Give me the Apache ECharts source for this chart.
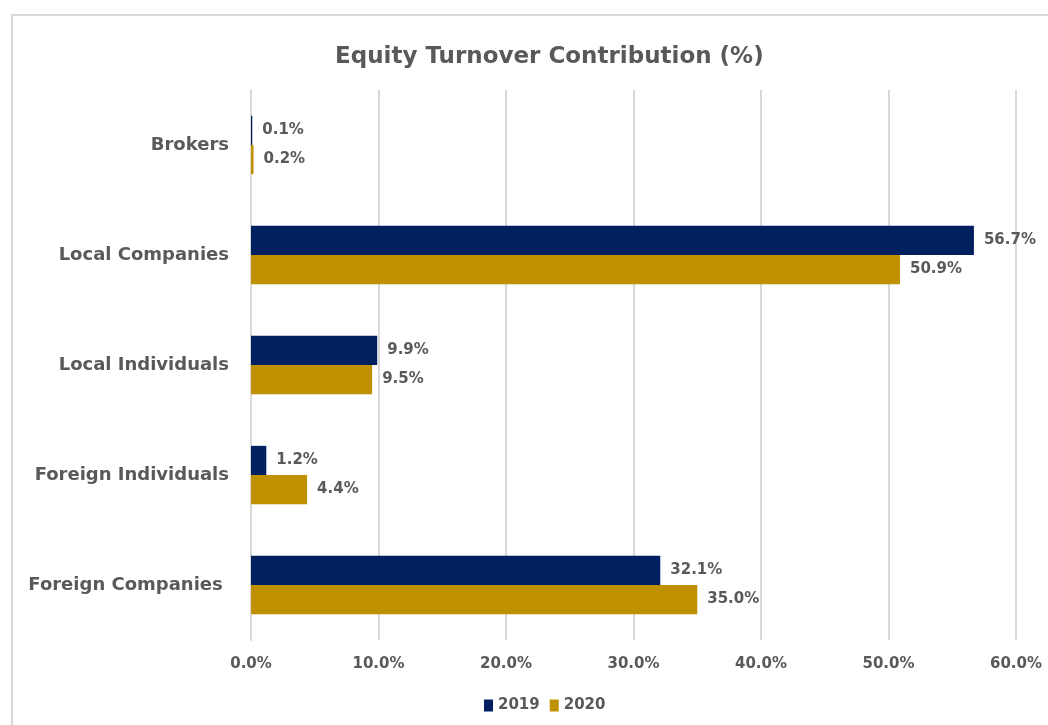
<!DOCTYPE html>
<html>
<head>
<meta charset="utf-8">
<script src="https://cdn.jsdelivr.net/npm/echarts@6/dist/echarts.min.js"></script>
<style>
  html, body { margin: 0; padding: 0; background: #fff; }
  #frame {
    position: absolute; left: 11px; top: 14px; width: 1100px; height: 800px;
    border: 2px solid #d9d9d9; box-sizing: border-box;
  }
  #main { position: absolute; left: 0; top: 0; width: 1048px; height: 725px; }
</style>
</head>
<body>
<div id="frame"></div>
<div id="main"></div>
<script>
// categories from bottom to top
const categories = ['Foreign Companies ', 'Foreign Individuals', 'Local Individuals', 'Local Companies', 'Brokers']
const values2019 = [32.1, 1.2, 9.9, 56.7, 0.1]
const values2020 = [35.0, 4.4, 9.5, 50.9, 0.2]
const seriesNames = ['2019', '2020']

const textColor = '#595959'
const font = 'DejaVu Sans'

var myChart = echarts.init(document.getElementById('main'))

const labelStyle = {
    show: true,
    position: 'right',
    distance: 10,
    color: textColor,
    fontFamily: font,
    fontWeight: 'bold',
    fontSize: 15,
    formatter: p => p.value.toFixed(1) + '%'
}

let option = {
    title: {
        text: 'Equity Turnover Contribution (%)',
        left: 330,
        top: 41,
        textStyle: { color: textColor, fontFamily: font, fontWeight: 'bold', fontSize: 23 }
    },
    legend: {
        data: seriesNames,
        bottom: 7,
        left: 479,
        icon: 'rect',
        itemWidth: 9,
        itemHeight: 12,
        itemGap: 10,
        textStyle: { color: textColor, fontFamily: font, fontWeight: 'bold', fontSize: 15 }
    },
    grid: {
        left: 251,
        right: 32,
        top: 90,
        bottom: 85
    },
    xAxis: {
        type: 'value',
        min: 0,
        max: 60,
        interval: 10,
        axisLine: { show: false },
        axisTick: { show: false },
        splitLine: { lineStyle: { color: '#d9d9d9', width: 2 } },
        axisLabel: {
            margin: 17,
            color: textColor,
            fontFamily: font,
            fontWeight: 'bold',
            fontSize: 15,
            formatter: v => v.toFixed(1) + '%'
        }
    },
    yAxis: {
        type: 'category',
        data: categories,
        axisLine: { show: true, lineStyle: { color: '#d9d9d9', width: 2 } },
        axisTick: { show: false },
        axisLabel: {
            margin: 22,
            color: textColor,
            fontFamily: font,
            fontWeight: 'bold',
            fontSize: 18
        }
    },
    series: [
        {
            name: seriesNames[0],
            type: 'bar',
            data: values2019,
            barGap: '0%',
            barCategoryGap: '47%',
            itemStyle: { color: '#002060' },
            label: labelStyle
        },
        {
            name: seriesNames[1],
            type: 'bar',
            data: values2020,
            itemStyle: { color: '#bf9000' },
            label: labelStyle
        }
    ]
}
myChart.setOption(option)
</script>
</body>
</html>
